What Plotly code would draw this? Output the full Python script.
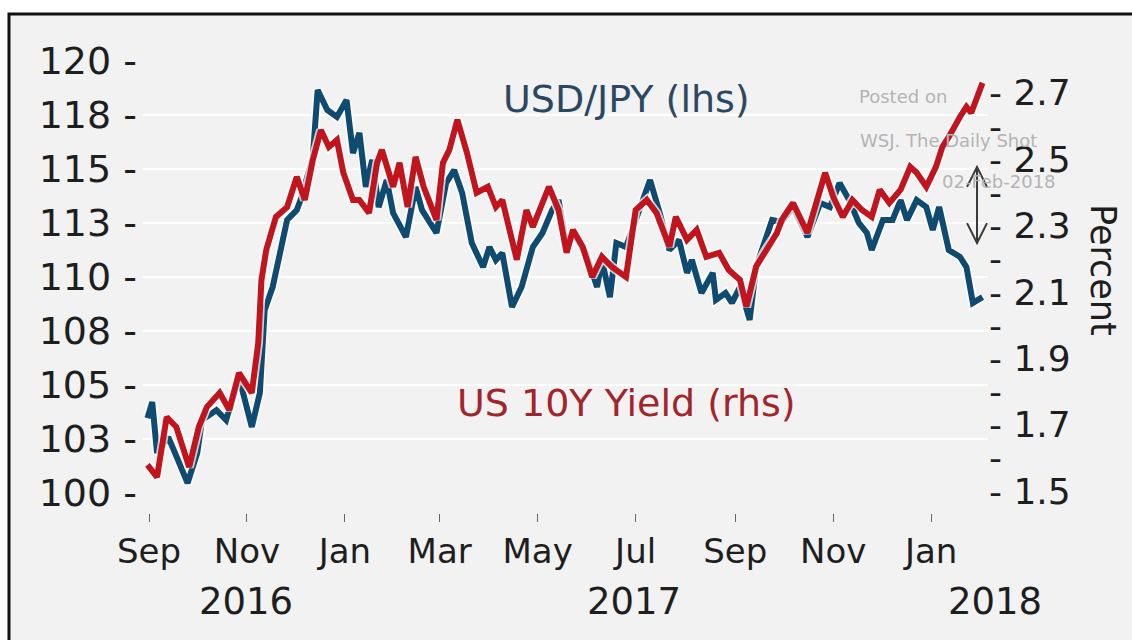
import plotly.graph_objects as go

# USD/JPY spot (left axis)
usdjpy_dates = [
    "2016-08-31", "2016-09-03", "2016-09-06", "2016-09-13", "2016-09-19", "2016-09-25", "2016-10-01", "2016-10-04", "2016-10-13", "2016-10-19",
    "2016-10-27", "2016-11-04", "2016-11-09", "2016-11-12", "2016-11-17", "2016-11-22", "2016-11-26", "2016-12-02", "2016-12-06", "2016-12-08",
    "2016-12-12", "2016-12-15", "2016-12-21", "2016-12-27", "2017-01-02", "2017-01-06", "2017-01-10", "2017-01-14", "2017-01-18", "2017-01-22",
    "2017-01-27", "2017-01-31", "2017-02-08", "2017-02-14", "2017-02-18", "2017-02-27", "2017-03-05", "2017-03-10", "2017-03-15", "2017-03-21",
    "2017-03-28", "2017-04-01", "2017-04-05", "2017-04-09", "2017-04-15", "2017-04-21", "2017-04-28", "2017-05-04", "2017-05-10", "2017-05-14",
    "2017-05-19", "2017-05-23", "2017-05-31", "2017-06-07", "2017-06-10", "2017-06-15", "2017-06-19", "2017-06-25", "2017-07-04", "2017-07-10",
    "2017-07-16", "2017-07-22", "2017-07-28", "2017-08-02", "2017-08-05", "2017-08-11", "2017-08-18", "2017-08-20", "2017-08-26", "2017-08-30",
    "2017-09-04", "2017-09-10", "2017-09-14", "2017-09-20", "2017-09-24", "2017-09-30", "2017-10-07", "2017-10-16", "2017-10-24", "2017-10-30",
    "2017-11-05", "2017-11-11", "2017-11-17", "2017-11-22", "2017-11-25", "2017-12-02", "2017-12-08", "2017-12-13", "2017-12-17", "2017-12-23",
    "2017-12-29", "2018-01-02", "2018-01-06", "2018-01-12", "2018-01-19", "2018-01-23", "2018-01-27", "2018-02-02",
]
usdjpy = [
    103.47, 104.21, 101.85, 102.59, 101.53, 100.46, 101.85, 103.38, 103.84, 103.38,
    105.37, 103.06, 104.63, 108.47, 109.54, 111.39, 112.64, 113.10, 113.89, 114.49,
    115.56, 118.66, 117.73, 117.41, 118.19, 115.74, 116.67, 114.17, 115.42, 113.24,
    114.49, 112.96, 111.85, 114.17, 113.10, 112.04, 114.35, 114.95, 113.89, 111.57,
    110.46, 111.39, 110.79, 111.11, 108.61, 109.54, 111.39, 112.04, 113.10, 113.56,
    111.39, 112.04, 111.11, 109.54, 110.79, 109.07, 111.57, 111.39, 113.24, 114.49,
    112.96, 111.25, 111.71, 110.19, 110.79, 109.26, 110.19, 108.94, 109.26, 108.80,
    109.54, 108.01, 110.46, 111.71, 112.64, 112.55, 113.24, 111.85, 113.43, 113.24,
    114.35, 113.56, 112.50, 112.04, 111.25, 112.64, 112.64, 113.56, 112.64, 113.56,
    113.24, 112.18, 113.24, 111.25, 110.93, 110.46, 108.80, 109.07,
]

# US 10-year Treasury yield, percent (right axis)
ust10_dates = [
    "2016-08-31", "2016-09-06", "2016-09-12", "2016-09-18", "2016-09-26", "2016-10-02", "2016-10-07", "2016-10-15", "2016-10-21", "2016-10-27",
    "2016-11-04", "2016-11-08", "2016-11-10", "2016-11-13", "2016-11-19", "2016-11-26", "2016-12-02", "2016-12-07", "2016-12-12", "2016-12-17",
    "2016-12-22", "2016-12-27", "2016-12-31", "2017-01-06", "2017-01-10", "2017-01-16", "2017-01-21", "2017-01-24", "2017-01-31", "2017-02-04",
    "2017-02-09", "2017-02-14", "2017-02-19", "2017-02-27", "2017-03-03", "2017-03-07", "2017-03-12", "2017-03-18", "2017-03-24", "2017-03-31",
    "2017-04-05", "2017-04-09", "2017-04-18", "2017-04-24", "2017-04-28", "2017-05-08", "2017-05-14", "2017-05-19", "2017-05-23", "2017-05-29",
    "2017-06-04", "2017-06-10", "2017-06-16", "2017-06-25", "2017-07-01", "2017-07-08", "2017-07-14", "2017-07-22", "2017-07-26", "2017-08-02",
    "2017-08-08", "2017-08-14", "2017-08-22", "2017-08-28", "2017-09-04", "2017-09-08", "2017-09-14", "2017-09-20", "2017-09-27", "2017-09-30",
    "2017-10-07", "2017-10-16", "2017-10-22", "2017-10-27", "2017-11-01", "2017-11-07", "2017-11-13", "2017-11-19", "2017-11-25", "2017-11-30",
    "2017-12-06", "2017-12-13", "2017-12-19", "2017-12-23", "2017-12-29", "2018-01-04", "2018-01-08", "2018-01-12", "2018-01-19", "2018-01-23",
    "2018-01-26", "2018-02-02",
]
ust10 = [
    1.579, 1.542, 1.723, 1.693, 1.572, 1.693, 1.753, 1.796, 1.744, 1.856,
    1.796, 1.946, 2.136, 2.227, 2.326, 2.356, 2.447, 2.377, 2.498, 2.588,
    2.537, 2.558, 2.459, 2.377, 2.377, 2.338, 2.489, 2.528, 2.417, 2.489,
    2.356, 2.507, 2.417, 2.317, 2.489, 2.528, 2.619, 2.519, 2.399, 2.417,
    2.356, 2.377, 2.197, 2.347, 2.296, 2.417, 2.347, 2.218, 2.287, 2.236,
    2.145, 2.206, 2.176, 2.145, 2.347, 2.377, 2.338, 2.236, 2.326, 2.257,
    2.287, 2.206, 2.218, 2.166, 2.136, 2.055, 2.176, 2.227, 2.278, 2.317,
    2.368, 2.278, 2.377, 2.459, 2.387, 2.326, 2.377, 2.347, 2.326, 2.408,
    2.368, 2.408, 2.477, 2.459, 2.417, 2.477, 2.537, 2.567, 2.628, 2.658,
    2.640, 2.730,
]

# Axis ticks
month_ticks = ["2016-09-01", "2016-11-01", "2017-01-01", "2017-03-01", "2017-05-01",
               "2017-07-01", "2017-09-01", "2017-11-01", "2018-01-01"]
month_labels = ["Sep", "Nov", "Jan", "Mar", "May", "Jul", "Sep", "Nov", "Jan"]
year_ticks = ["2017-01-01", "2018-01-01"]
year_labels = ["2016", "2017", "2018"]
# horizontal centres of the year captions (paper fraction of the plot width)
year_label_pos = [0.1219, 0.5811, 1.0083]

left_ticks = [100, 102.5, 105, 107.5, 110, 112.5, 115, 117.5, 120]
left_labels = ["100 -", "103 -", "105 -", "108 -", "110 -", "113 -", "115 -", "118 -", "120 -"]
right_ticks = [1.5, 1.6, 1.7, 1.8, 1.9, 2.0, 2.1, 2.2, 2.3, 2.4, 2.5, 2.6, 2.7, 2.8]
right_labels = ["- 1.5", "-", "- 1.7", "-", "- 1.9", "-", "- 2.1", "-",
                "- 2.3", "-", "- 2.5", "-", "- 2.7", "-"]

BLUE = "#0f4a70"
RED = "#c1141d"
INK = "#1e1e1e"
BG = "#f2f2f2"
FONT = "DejaVu Sans"
X_RANGE = ["2016-08-28 06:00", "2018-02-05 10:00"]

fig = go.Figure()

# soft pale halo under each line, then the line itself
fig.add_trace(go.Scatter(x=usdjpy_dates, y=usdjpy, mode="lines", yaxis="y",
                         line=dict(color="rgba(255,255,255,0.75)", width=9.5), hoverinfo="skip"))
fig.add_trace(go.Scatter(x=usdjpy_dates, y=usdjpy, mode="lines", yaxis="y",
                         name="USD/JPY", line=dict(color=BLUE, width=6)))
fig.add_trace(go.Scatter(x=ust10_dates, y=ust10, mode="lines", yaxis="y2",
                         line=dict(color="rgba(255,255,255,0.75)", width=9.5), hoverinfo="skip"))
fig.add_trace(go.Scatter(x=ust10_dates, y=ust10, mode="lines", yaxis="y2",
                         name="US 10Y Yield", line=dict(color=RED, width=6)))

# the plotting region spans y=61..513 px; data area sits above a gap for the x ticks
y_domain_bottom = 20 / 452


def note(text, x, y, size, color, xanchor="center", angle=0):
    return dict(text=text, x=x, y=y, xref="paper", yref="paper", xanchor=xanchor,
                yanchor="middle", textangle=angle, showarrow=False,
                font=dict(family=FONT, size=size, color=color))


annotations = [
    note("USD/JPY (lhs)", 0.5716, 0.9159, 38, "#2b4863"),
    note("US 10Y Yield (rhs)", 0.5716, 0.2434, 38, "#a3252c"),
    note("Percent", 1.136, 0.5376, 35, INK, angle=90),
    note("Posted on", 0.845, 0.9204, 18, "#b4b4b4", xanchor="left"),
    note("WSJ. The Daily Shot", 0.846, 0.8252, 18, "#b4b4b4", xanchor="left"),
    note("02-Feb-2018", 0.9432, 0.7345, 18, "#b4b4b4", xanchor="left"),
]
for label, px in zip(year_labels, year_label_pos):
    annotations.append(note(label, px, -0.1947, 37, INK))

# double-headed arrow marking the widening gap
ax_x, ay_top, ay_bot = 0.987, 0.7655, 0.5973
hw, hh = 0.0118, 0.044
arrow_path = (f"M {ax_x} {ay_top} L {ax_x} {ay_bot} "
              f"M {ax_x - hw} {ay_top - hh} L {ax_x} {ay_top} L {ax_x + hw} {ay_top - hh} "
              f"M {ax_x - hw} {ay_bot + hh} L {ax_x} {ay_bot} L {ax_x + hw} {ay_bot + hh}")

shapes = [
    # grey panel with black frame on left and top
    dict(type="rect", xref="paper", yref="paper", x0=-0.1586, x1=1.25, y0=-0.4, y1=1.104,
         fillcolor=BG, line=dict(width=0), layer="below"),
    dict(type="path", xref="paper", yref="paper", path="M -0.1586 -0.4 L -0.1586 1.104 L 1.25 1.104",
         line=dict(color="#111111", width=3), layer="below"),
    dict(type="path", xref="paper", yref="paper", path=arrow_path,
         line=dict(color="#3a3a3a", width=2)),
]

fig.update_layout(
    width=1132, height=640,
    margin=dict(l=143, r=144, t=61, b=127),
    paper_bgcolor="white", plot_bgcolor=BG,
    showlegend=False,
    font=dict(family=FONT, color=INK),
    xaxis=dict(type="date", range=X_RANGE, anchor="free", position=0,
               tickvals=month_ticks, ticktext=month_labels,
               ticks="outside", ticklen=8, tickwidth=1, tickcolor="#666666",
               tickfont=dict(family=FONT, size=34, color=INK),
               showgrid=False, zeroline=False, showline=False),
    xaxis3=dict(type="date", range=X_RANGE, anchor="free", position=0, overlaying="x",
                tickvals=year_ticks, showticklabels=False,
                ticks="outside", ticklen=14, tickwidth=2, tickcolor="#666666",
                showgrid=False, zeroline=False, showline=False),
    yaxis=dict(range=[100, 120], domain=[y_domain_bottom, 1],
               tickvals=left_ticks, ticktext=left_labels,
               tickfont=dict(family=FONT, size=38, color=INK),
               showgrid=True, gridcolor="white", gridwidth=2,
               zeroline=False, showline=False, ticks="", ticklabelstandoff=5),
    yaxis2=dict(range=[1.494, 2.796], domain=[y_domain_bottom, 1], overlaying="y", side="right",
                tickvals=right_ticks, ticktext=right_labels,
                tickfont=dict(family=FONT, size=36, color=INK),
                showgrid=False, zeroline=False, showline=False, ticks=""),
    annotations=annotations,
    shapes=shapes,
)

fig.write_html("out.html", config={"displayModeBar": False})
